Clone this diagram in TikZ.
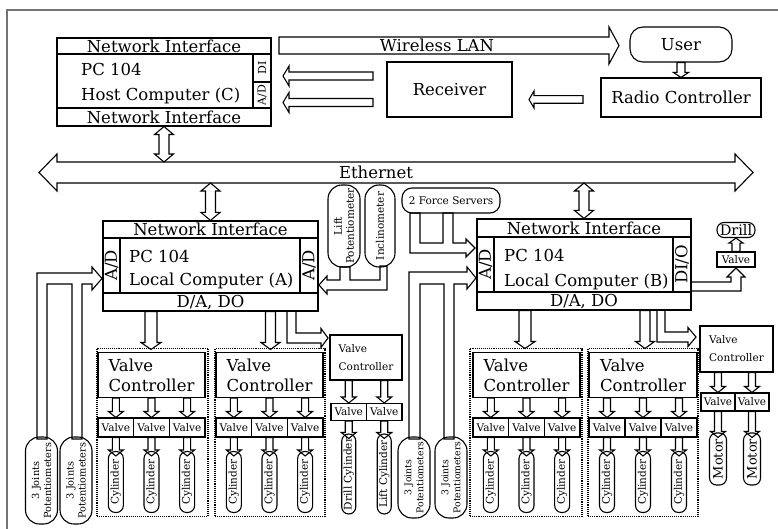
\documentclass[tikz,border=0pt]{standalone}
\usepackage{fontspec}
\setmainfont{DejaVu Serif}
\usetikzlibrary{calc}

\newcommand{\fatarrow}[6][]{%
  \coordinate (fas) at (#2);
  \coordinate (fae) at (#3);
  \coordinate (fab) at ($(fae)!#6pt!(fas)$);
  \draw[fatline,#1] ($(fas)!#4pt!90:(fae)$) -- ($(fab)!#4pt!90:(fae)$) -- ($(fab)!#5pt!90:(fae)$)
    -- (fae) -- ($(fab)!#5pt!-90:(fae)$) -- ($(fab)!#4pt!-90:(fae)$) -- ($(fas)!#4pt!-90:(fae)$) -- cycle;}
\newcommand{\fatdarrow}[6][]{%
  \coordinate (fas) at (#2);
  \coordinate (fae) at (#3);
  \coordinate (fab) at ($(fae)!#6pt!(fas)$);
  \coordinate (faa) at ($(fas)!#6pt!(fae)$);
  \draw[fatline,#1] (fas) -- ($(faa)!#5pt!90:(fae)$) -- ($(faa)!#4pt!90:(fae)$) -- ($(fab)!#4pt!90:(fae)$)
    -- ($(fab)!#5pt!90:(fae)$) -- (fae) -- ($(fab)!#5pt!-90:(fae)$) -- ($(fab)!#4pt!-90:(fae)$)
    -- ($(faa)!#4pt!-90:(fae)$) -- ($(faa)!#5pt!-90:(fae)$) -- cycle;}

\begin{document}
\begin{tikzpicture}[
  x=1pt, y=-1pt,
  every node/.style={inner sep=0pt},
  cell/.style={draw, line width=1.1pt, font=\fontsize{16.5}{18}\selectfont},
  side/.style={cell, rotate=90},
  smallcell/.style={draw, line width=1.1pt, font=\fontsize{10.5}{12}\selectfont},
  grpbox/.style={draw, line width=1.1pt, densely dotted},
  vcbig/.style={cell, align=left, font=\fontsize{16.5}{20}\selectfont, minimum height=45},
  vcsmall/.style={cell, align=left, font=\fontsize{10.5}{18}\selectfont, minimum width=72, minimum height=45},
  valvebox/.style={smallcell, minimum height=19},
  cyl/.style={draw, line width=1.1pt, rounded corners=7pt, rotate=90, minimum width=61, minimum height=15,
    font=\fontsize{10.5}{12}\selectfont},
  sensor/.style={draw, line width=1.1pt, rounded corners=14pt, rotate=90, align=center},
  fatline/.style={draw, line width=1.1pt, line join=miter},
  txt/.style={font=\fontsize{16.5}{18}\selectfont}
]
\useasboundingbox (0,0) rectangle (778,529);
\draw[black!55, line width=1.5pt] (7,529) -- (7,10) -- (778,10);

% host computer
\node[cell, minimum width=214, minimum height=16] (hostNItop) at (164,46) {Network Interface};
\node[cell, minimum width=196, minimum height=54] (hostPC) at (155,81) {};
\node[txt, anchor=west] (hostPCa) at (81,69) {PC 104};
\node[txt, anchor=west] (hostPCb) at (81,96) {Host Computer (C)};
\node[side, minimum width=28, minimum height=18, font=\fontsize{11}{12}\selectfont] (hostDI) at (262,68) {DI};
\node[side, minimum width=26, minimum height=18, font=\fontsize{11}{12}\selectfont] (hostAD) at (262,95) {A/D};
\node[cell, minimum width=214, minimum height=18] (hostNIbot) at (164,117) {Network Interface};

\node[cell, minimum width=125, minimum height=55] (recv) at (449.5,89.5) {Receiver};
\node[cell, minimum width=160, minimum height=39] (radio) at (681,97.5) {Radio Controller};
\node[cell, rounded corners=13pt, minimum width=102, minimum height=35] (user) at (681,44.5) {User};

\coordinate (wlanS) at (279,45.5);
\coordinate (wlanE) at (619,45.5);
\fatarrow{wlanS}{wlanE}{8.5}{18.5}{10}
\node[txt] (wlan) at (437,45.5) {Wireless LAN};
\coordinate (rx1s) at (373,76);
\coordinate (rx1e) at (283,76);
\coordinate (rx2s) at (373,102.5);
\coordinate (rx2e) at (283,102.5);
\fatarrow{rx1s}{rx1e}{4}{10}{6}
\fatarrow{rx2s}{rx2e}{4}{10}{6}
\coordinate (rcS) at (583,99.5);
\coordinate (rcE) at (529,99.5);
\fatarrow{rcS}{rcE}{3.8}{8.5}{5}
\fatarrow{user.south}{radio.north}{4}{7.5}{5}

% ethernet
\coordinate (ethL) at (39,172.5);
\coordinate (ethR) at (753,172.5);
\fatdarrow{ethL}{ethR}{10.5}{18.5}{18}
\node[txt] (eth) at (376,172) {Ethernet};
\coordinate (hostEth) at (164,162);
\fatdarrow{hostNIbot.south}{hostEth}{5}{9.5}{8}

% local computer A
\node[cell, minimum width=215, minimum height=17] (aNI) at (210.5,229.5) {Network Interface};
\node[cell, minimum width=180, minimum height=55] (aPC) at (210,265.5) {};
\node[txt, anchor=west] (aPCa) at (129,256) {PC 104};
\node[txt, anchor=west] (aPCb) at (129,281) {Local Computer (A)};
\node[side, minimum width=55, minimum height=17] (aADl) at (111.5,265.5) {A/D};
\node[side, minimum width=55, minimum height=18] (aADr) at (309,265.5) {A/D};
\node[cell, minimum width=215, minimum height=18] (aDA) at (210.5,302) {D/A, DO};
\coordinate (ethA) at (210.5,183);
\fatdarrow{ethA}{aNI.north}{5}{9.5}{8}

% local computer B
\node[cell, minimum width=214, minimum height=18] (bNI) at (584,228) {Network Interface};
\node[cell, minimum width=179, minimum height=55] (bPC) at (583.5,264.5) {};
\node[txt, anchor=west] (bPCa) at (504,255) {PC 104};
\node[txt, anchor=west] (bPCb) at (504,282) {Local Computer (B)};
\node[side, minimum width=55, minimum height=17] (bADl) at (485.5,264.5) {A/D};
\node[side, minimum width=55, minimum height=18] (bDIO) at (682,264.5) {DI/O};
\node[cell, minimum width=214, minimum height=18] (bDA) at (584,301) {D/A, DO};
\coordinate (ethB) at (584,183);
\fatdarrow{ethB}{bNI.north}{5}{9.5}{8}

% sensors
\node[sensor, minimum width=82, minimum height=32, font=\fontsize{10.5}{12}\selectfont] (liftpot) at (344,226) {Lift\\Potentiometer};
\node[sensor, minimum width=82, minimum height=30, font=\fontsize{10.5}{12}\selectfont] (incl) at (380,226) {Inclinometer};
\node[cell, rounded corners=10pt, minimum width=98, minimum height=25, font=\fontsize{10.5}{12}\selectfont] (force) at (451,200.5) {2 Force Servers};
\draw[fatline] (319,285) -- (327,276) -- (327,280) -- (340,280) -- (340,267) -- (350,267) -- (350,280) -- (380,280)
  -- (380,266) -- (387,266) -- (387,290) -- (327,290) -- (327,294) -- cycle;
\draw[fatline] (410,213) -- (410,253) -- (466,253) -- (466,257) -- (475,248) -- (466,239) -- (466,243) -- (453,243)
  -- (453,213) -- (443,213) -- (443,243) -- (420,243) -- (420,213) -- cycle;

\node[sensor, minimum width=87, minimum height=32, font=\fontsize{9.8}{12}\selectfont] (potA1) at (41.5,480.5) {3 Joints\\Potentiometers};
\node[sensor, minimum width=87, minimum height=32, font=\fontsize{9.8}{12}\selectfont] (potA2) at (76,480.5) {3 Joints\\Potentiometers};
\node[sensor, minimum width=81, minimum height=32, font=\fontsize{9.3}{12}\selectfont] (potB1) at (414,477.5) {3 Joints\\Potentiometers};
\node[sensor, minimum width=81, minimum height=32, font=\fontsize{9.3}{12}\selectfont] (potB2) at (451,477.5) {3 Joints\\Potentiometers};
\draw[fatline] (37,439) -- (37,273) -- (92,273) -- (92,267) -- (102,278.5) -- (92,290) -- (92,284) -- (82,284)
  -- (82,439) -- (72,439) -- (72,284) -- (47,284) -- (47,439) -- cycle;
\draw[fatline] (409,439) -- (409,272) -- (467,272) -- (467,267) -- (476,278) -- (467,289) -- (467,284) -- (454,284)
  -- (454,439) -- (444,439) -- (444,284) -- (420,284) -- (420,439) -- cycle;

% drill
\node[cell, rounded corners=7pt, minimum width=38, minimum height=15, font=\fontsize{14.5}{16}\selectfont] (drill) at (736,230) {Drill};
\node[smallcell, minimum width=38, minimum height=15] (drillvalve) at (736,259.5) {Valve};
\fatarrow{drillvalve.north}{drill.south}{4}{7}{5}
\draw[fatline] (691,282) -- (731,282) -- (731,277) -- (727,277) -- (736,268) -- (745,277) -- (741,277) -- (741,291)
  -- (691,291) -- cycle;

% valve controller groups
\foreach \g/\xl/\xr/\gl/\gr in {A1/98/205/97/208, A2/216/323/215/325, B1/473/580/470/582, B2/589/697/588/698}{
  \pgfmathsetmacro{\gw}{\gr-\gl}
  \pgfmathsetmacro{\gc}{(\gr+\gl)/2}
  \pgfmathsetmacro{\vw}{\xr-\xl}
  \pgfmathsetmacro{\vc}{(\xr+\xl)/2}
  \pgfmathsetmacro{\cw}{(\xr-\xl)/3}
  \node[grpbox, minimum width=\gw, minimum height=168] (grp\g) at (\gc,432.5) {};
  \node[vcbig, minimum width=\vw] (vc\g) at (\vc,375) {Valve\\Controller};
  \foreach \i in {1,2,3}{
    \pgfmathsetmacro{\vx}{\xl+(\i-0.5)*\cw}
    \node[valvebox, minimum width=\cw] (v\g\i) at (\vx,427.5) {Valve};
    \node[cyl] (cyl\g\i) at (\vx,482) {Cylinder};
    \fatarrow{v\g\i.north |- vc\g.south}{v\g\i.north}{3.5}{7.5}{6}
    \fatarrow{v\g\i.south}{$(cyl\g\i.east)+(0,5)$}{3.5}{7.5}{6}
  }
}
\coordinate (daA1) at (151,349.5);
\coordinate (daA2) at (270.5,349.5);
\coordinate (daB1) at (525,348.5);
\coordinate (daB2) at (645,348.5);
\fatarrow{daA1 |- aDA.south}{daA1}{6}{10}{7}
\fatarrow{daA2 |- aDA.south}{daA2}{5}{9.5}{7}
\fatarrow{daB1 |- bDA.south}{daB1}{6}{10}{7}
\fatarrow{daB2 |- bDA.south}{daB2}{5}{9.5}{7}
\draw[fatline] (287,311) -- (287,343) -- (321,343) -- (321,347.5) -- (328,338) -- (321,328.5) -- (321,333) -- (296,333)
  -- (296,311) -- cycle;
\draw[fatline] (657,310) -- (657,342) -- (688,342) -- (688,346.5) -- (696,337) -- (688,327.5) -- (688,332) -- (665,332)
  -- (665,310) -- cycle;

% small valve controllers
\node[vcsmall] (vcA3) at (366,357.5) {Valve\\Controller};
\node[valvebox, minimum width=35.5, minimum height=17] (vA31) at (348.75,412) {Valve};
\node[valvebox, minimum width=35.5, minimum height=17] (vA32) at (384.25,412) {Valve};
\node[cyl, minimum width=80, minimum height=14] (drillcyl) at (348.75,474) {Drill Cylinder};
\node[cyl, minimum width=80, minimum height=14] (liftcyl) at (384.25,474) {Lift Cylinder};
\fatarrow{vA31.north |- vcA3.south}{vA31.north}{3.5}{7.5}{6}
\fatarrow{vA32.north |- vcA3.south}{vA32.north}{3.5}{7.5}{6}
\fatarrow{vA31.south}{$(drillcyl.east)+(0,5)$}{3.5}{7.5}{6}
\fatarrow{vA32.south}{$(liftcyl.east)+(0,5)$}{3.5}{7.5}{6}

\node[vcsmall, minimum width=73, minimum height=46] (vcB3) at (736.5,349) {Valve\\Controller};
\node[valvebox, minimum width=34, minimum height=18] (vB31) at (718,402) {Valve};
\node[valvebox, minimum width=34, minimum height=18] (vB32) at (752,402) {Valve};
\node[cyl, minimum width=52, minimum height=17, font=\fontsize{13}{14}\selectfont] (motor1) at (718,459) {Motor};
\node[cyl, minimum width=52, minimum height=17, font=\fontsize{13}{14}\selectfont] (motor2) at (752,459) {Motor};
\fatarrow{vB31.north |- vcB3.south}{vB31.north}{3.5}{7.5}{6}
\fatarrow{vB32.north |- vcB3.south}{vB32.north}{3.5}{7.5}{6}
\fatarrow{vB31.south}{$(motor1.east)+(0,5)$}{3.5}{7.5}{6}
\fatarrow{vB32.south}{$(motor2.east)+(0,5)$}{3.5}{7.5}{6}
\end{tikzpicture}
\end{document}
